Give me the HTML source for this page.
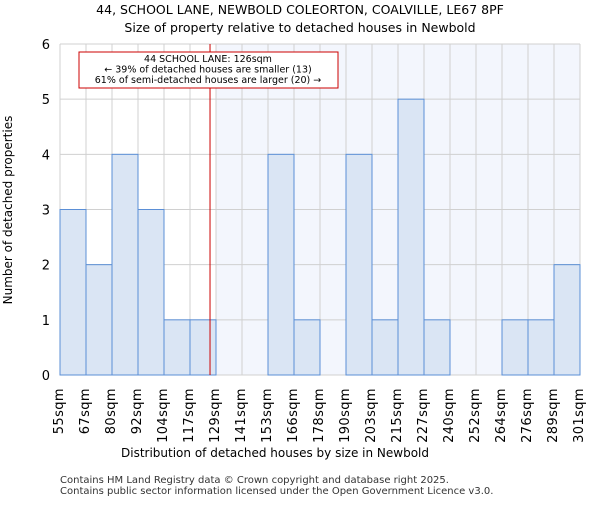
<!DOCTYPE html>
<html><head><meta charset="utf-8"><style>body{margin:0;background:#fff}svg{font-family:"DejaVu Sans","Liberation Sans",sans-serif}</style></head>
<body>
<svg id="c" width="600" height="500">
<text x="300" y="14" text-anchor="middle" font-size="12.5">44, SCHOOL LANE, NEWBOLD COLEORTON, COALVILLE, LE67 8PF</text>
<text x="300" y="32" text-anchor="middle" font-size="12.5">Size of property relative to detached houses in Newbold</text>
<g id="plot"></g>
<text x="275" y="457" text-anchor="middle" font-size="12">Distribution of detached houses by size in Newbold</text>
<text transform="translate(12,210) rotate(-90)" text-anchor="middle" font-size="12">Number of detached properties</text>
<text x="60" y="483" font-size="10" fill="#333">Contains HM Land Registry data © Crown copyright and database right 2025.</text>
<text x="60" y="494" font-size="10" fill="#333">Contains public sector information licensed under the Open Government Licence v3.0.</text>
</svg>
<script>
const labels=["55sqm","67sqm","80sqm","92sqm","104sqm","117sqm","129sqm","141sqm","153sqm","166sqm","178sqm","190sqm","203sqm","215sqm","227sqm","240sqm","252sqm","264sqm","276sqm","289sqm","301sqm"];
const counts=[3,2,4,3,1,1,0,0,4,1,0,4,1,5,1,0,0,1,1,2];
const yTicks=[0,1,2,3,4,5,6];
const marker=5.77; // bin position of 126sqm
const NS="http://www.w3.org/2000/svg";
const g=document.getElementById('plot');
const x0=60,x1=580,y0=375,y1=44,n=counts.length;
const bw=(x1-x0)/n;
const X=i=>x0+i*bw;
const Y=v=>y0-(v/6)*(y0-y1);
function mk(t,a){const e=document.createElementNS(NS,t);for(const k in a)e.setAttribute(k,a[k]);g.appendChild(e);return e;}
const hl=Math.ceil(marker);
let e=mk('rect',{x:X(hl),y:y1,width:x1-X(hl),height:y0-y1,fill:"#f3f6fd"});


for(let i=0;i<=n;i++){e=mk('line',{x1:X(i),x2:X(i),y1:y1,y2:y0,stroke:"#d0d0d0","stroke-width":1});

}
yTicks.forEach(t=>{e=mk('line',{x1:x0,x2:x1,y1:Y(t),y2:Y(t),stroke:"#d0d0d0","stroke-width":1});


e=mk('text',{x:50,y:Y(t)+5,"text-anchor":"end","font-size":"13"});e.textContent=t;

});
counts.forEach((c,i)=>{if(c<=0)return;e=mk('rect',{x:X(i),y:Y(c),width:bw,height:y0-Y(c),fill:"#dae5f4",stroke:"#5b8fd6","stroke-width":1});

});
labels.forEach((l,i)=>{e=mk('text',{transform:`translate(${X(i)+3},388) rotate(-90)`,"text-anchor":"end","font-size":"13","letter-spacing":"0.4"});e.textContent=l;

});
const mx=X(marker);
e=mk('line',{x1:mx,x2:mx,y1:y1,y2:y0,stroke:"#cc0000","stroke-width":1});


e=mk('rect',{x:79,y:52,width:259,height:36,fill:"#fff",stroke:"#cc0000","stroke-width":1});


["44 SCHOOL LANE: 126sqm","← 39% of detached houses are smaller (13)","61% of semi-detached houses are larger (20) →"].forEach((t,k)=>{e=mk('text',{x:208,y:62+k*10.5,"text-anchor":"middle","font-size":"9.5"});e.textContent=t;

});
</script>
</body></html>
